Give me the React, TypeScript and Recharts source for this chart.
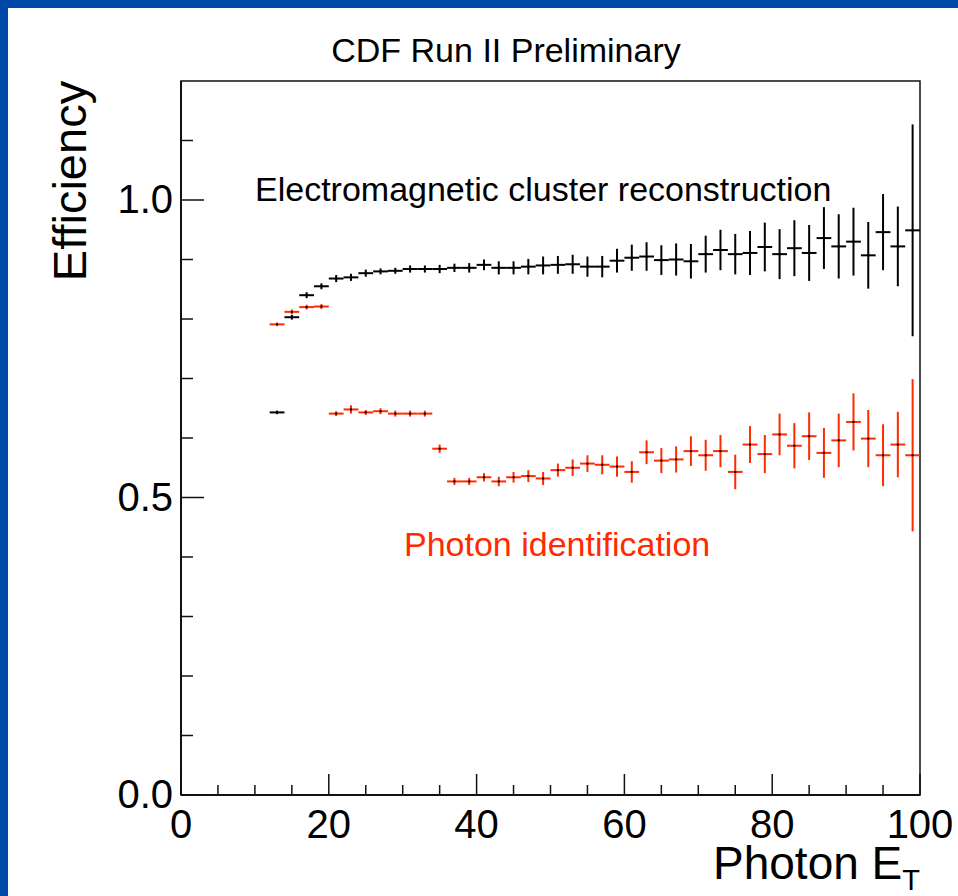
import React from "react";
import {
  ComposedChart,
  Scatter,
  ErrorBar,
  XAxis,
  YAxis,
  ReferenceArea,
} from "recharts";

// photon E_T bin centres (GeV), bins are 2 GeV wide
const binCenters = [
  13, 15, 17, 19, 21, 23, 25, 27, 29, 31, 33, 35, 37, 39, 41, 43, 45, 47, 49, 51, 53, 55,
  57, 59, 61, 63, 65, 67, 69, 71, 73, 75, 77, 79, 81, 83, 85, 87, 89, 91, 93, 95, 97, 99,
];
const binHalfWidth = 1;

// electromagnetic cluster reconstruction efficiency
const clusterEff = [
  0.643, 0.803, 0.84, 0.855, 0.868, 0.87, 0.877, 0.88, 0.881, 0.884, 0.884, 0.884, 0.886, 0.886,
  0.891, 0.886, 0.886, 0.888, 0.89, 0.891, 0.892, 0.888, 0.888, 0.898, 0.903, 0.905, 0.899, 0.9,
  0.897, 0.909, 0.916, 0.909, 0.911, 0.921, 0.909, 0.919, 0.911, 0.936, 0.922, 0.93, 0.907,
  0.946, 0.922, 0.949,
];
const clusterErr = [
  0.003, 0.004, 0.005, 0.005, 0.006, 0.006, 0.006, 0.005, 0.005, 0.006, 0.006, 0.007, 0.007,
  0.008, 0.009, 0.011, 0.011, 0.013, 0.015, 0.015, 0.016, 0.017, 0.018, 0.02, 0.022, 0.024,
  0.025, 0.027, 0.029, 0.031, 0.034, 0.034, 0.037, 0.041, 0.042, 0.047, 0.047, 0.052, 0.054,
  0.057, 0.056, 0.064, 0.067, 0.178,
];

// photon identification efficiency
const photonIdEff = [
  0.791, 0.812, 0.82, 0.821, 0.641, 0.648, 0.643, 0.645, 0.641, 0.641, 0.641, 0.582, 0.527,
  0.527, 0.534, 0.527, 0.534, 0.536, 0.532, 0.546, 0.55, 0.557, 0.555, 0.552, 0.543, 0.576,
  0.562, 0.564, 0.578, 0.571, 0.578, 0.543, 0.589, 0.573, 0.606, 0.587, 0.603, 0.575, 0.596,
  0.627, 0.599, 0.571, 0.589, 0.571,
];
const photonIdErr = [
  0.003, 0.004, 0.004, 0.004, 0.004, 0.007, 0.004, 0.005, 0.005, 0.005, 0.005, 0.007, 0.006,
  0.006, 0.007, 0.008, 0.009, 0.01, 0.011, 0.011, 0.014, 0.014, 0.016, 0.017, 0.018, 0.02,
  0.021, 0.022, 0.025, 0.026, 0.027, 0.029, 0.031, 0.032, 0.035, 0.038, 0.04, 0.042, 0.045,
  0.048, 0.048, 0.052, 0.055, 0.128,
];

const xTicks = [0, 5, 10, 15, 20, 25, 30, 35, 40, 45, 50, 55, 60, 65, 70, 75, 80, 85, 90, 95, 100];
const yTicks = [0, 0.1, 0.2, 0.3, 0.4, 0.5, 0.6, 0.7, 0.8, 0.9, 1.0, 1.1];

const FONT = "'Liberation Sans', Arial, Helvetica, sans-serif";
const RED = "#ff2a00";
const INK = "#111";

const toPoints = (eff: number[], err: number[]) =>
  binCenters.map((x, i) => ({ x, y: eff[i], ex: binHalfWidth, ey: err[i] }));

const clusterData = toPoints(clusterEff, clusterErr);
const photonIdData = toPoints(photonIdEff, photonIdErr);

// ROOT style ticks: drawn inwards, long ones carry the labels
const XTick = (props: any) => {
  const { x, y, payload } = props;
  const v = payload.value as number;
  const major = v % 20 === 0;
  return (
    <g>
      <line x1={x} x2={x} y1={y} y2={y - (major ? 21 : 10)} stroke={INK} strokeWidth={1.5} />
      {major && (
        <text x={x} y={y + 43} textAnchor="middle" fontSize={40} fontFamily={FONT} fill="#000">
          {v}
        </text>
      )}
    </g>
  );
};

const YTick = (props: any) => {
  const { x, y, payload } = props;
  const v = payload.value as number;
  const major = Math.abs(v * 2 - Math.round(v * 2)) < 1e-6;
  return (
    <g>
      <line x1={x} x2={x + (major ? 23 : 12)} y1={y} y2={y} stroke={INK} strokeWidth={1.5} />
      {major && (
        <text x={x - 8} y={y + 13} textAnchor="end" fontSize={40} fontFamily={FONT} fill="#000">
          {v.toFixed(1)}
        </text>
      )}
    </g>
  );
};

const dot = (props: any) => (
  <rect x={props.cx - 1} y={props.cy - 1} width={2} height={2} fill="#000" />
);

const App: React.FC = () => {
  return (
    <div style={{ position: "absolute", left: 0, top: 0, width: 958, height: 896, background: "#0048a8" }}>
      <div style={{ position: "absolute", left: 8, top: 8, right: 0, bottom: 0, background: "#fff" }} />
      <div style={{ position: "absolute", left: 0, top: 0 }}>
        <ComposedChart
          width={958}
          height={896}
          margin={{ top: 81, right: 38, bottom: 0, left: 0 }}
        >
          <XAxis
            type="number"
            dataKey="x"
            domain={[0, 100]}
            ticks={xTicks}
            interval={0}
            allowDataOverflow
            height={101}
            tickSize={0}
            tickMargin={0}
            tick={<XTick />}
            tickLine={false}
            axisLine={{ stroke: INK, strokeWidth: 2 }}
          />
          <YAxis
            type="number"
            dataKey="y"
            domain={[0, 1.2]}
            ticks={yTicks}
            interval={0}
            allowDataOverflow
            width={181}
            tickSize={0}
            tickMargin={0}
            tick={<YTick />}
            tickLine={false}
            axisLine={{ stroke: INK, strokeWidth: 2 }}
          />
          <ReferenceArea
            x1={0}
            x2={100}
            y1={0}
            y2={1.2}
            fill="none"
            fillOpacity={0}
            stroke={INK}
            strokeWidth={1.5}
          />
          <Scatter data={clusterData} dataKey="y" shape={dot} isAnimationActive={false}>
            <ErrorBar dataKey="ex" direction="x" width={0} stroke="#000" strokeWidth={2} isAnimationActive={false} />
            <ErrorBar dataKey="ey" direction="y" width={0} stroke="#000" strokeWidth={2} isAnimationActive={false} />
          </Scatter>
          <Scatter data={photonIdData} dataKey="y" shape={dot} isAnimationActive={false}>
            <ErrorBar dataKey="ex" direction="x" width={0} stroke={RED} strokeWidth={2} isAnimationActive={false} />
            <ErrorBar dataKey="ey" direction="y" width={0} stroke={RED} strokeWidth={2} isAnimationActive={false} />
          </Scatter>
        </ComposedChart>
      </div>
      <svg
        width={958}
        height={896}
        style={{ position: "absolute", left: 0, top: 0, pointerEvents: "none" }}
        fontFamily={FONT}
      >
        <text x={506} y={62} textAnchor="middle" fontSize={34} fill="#000">
          CDF Run II Preliminary
        </text>
        <text x={86} y={181} textAnchor="middle" fontSize={47} fill="#000" transform="rotate(-90 86 181)">
          Efficiency
        </text>
        <text x={920} y={879} textAnchor="end" fontSize={46} fill="#000">
          <tspan>Photon E</tspan>
          <tspan dy={11} fontSize={29}>T</tspan>
        </text>
        <text x={255} y={201} fontSize={34} fill="#000">
          Electromagnetic cluster reconstruction
        </text>
        <text x={404} y={556} fontSize={34} fill={RED}>
          Photon identification
        </text>
      </svg>
    </div>
  );
};

export default App;
